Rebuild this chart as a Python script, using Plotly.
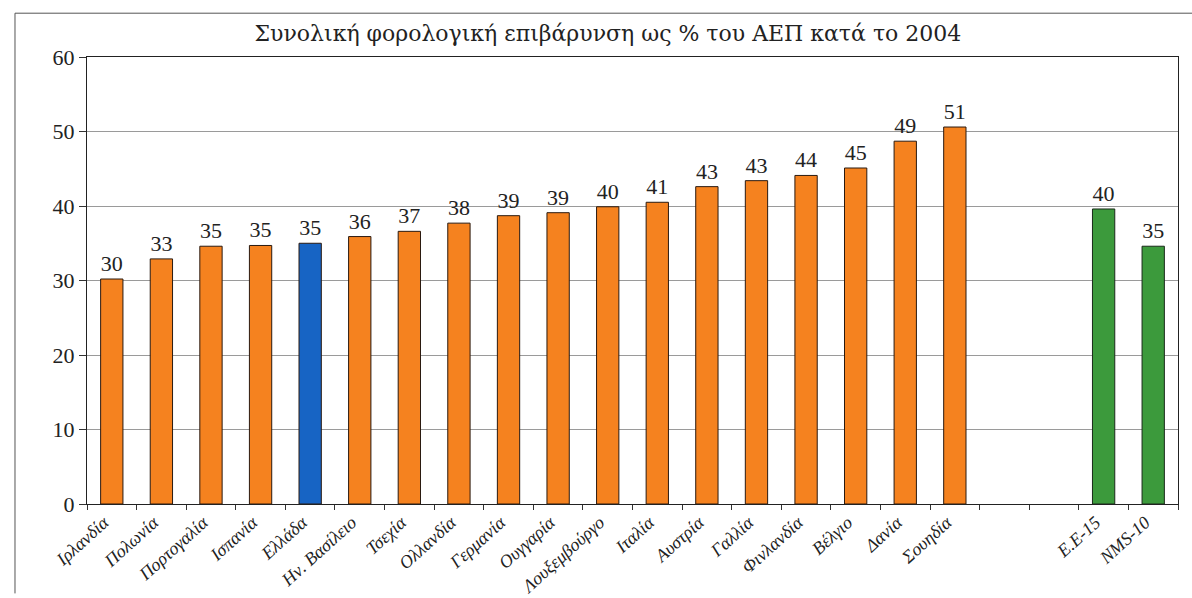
import plotly.graph_objects as go

# Total tax burden as % of GDP, 2004
countries = ["Ιρλανδία", "Πολωνία", "Πορτογαλία", "Ισπανία", "Ελλάδα", "Ην. Βασίλειο",
             "Τσεχία", "Ολλανδία", "Γερμανία", "Ουγγαρία", "Λουξεμβούργο", "Ιταλία",
             "Αυστρία", "Γαλλία", "Φινλανδία", "Βέλγιο", "Δανία", "Σουηδία"]
country_values = [30.2, 32.9, 34.6, 34.7, 35.0, 35.9, 36.6, 37.7, 38.7, 39.1, 39.9,
                  40.5, 42.6, 43.4, 44.1, 45.1, 48.7, 50.6]

groups = ["Ε.Ε-15", "NMS-10"]
group_values = [39.6, 34.6]

spacers = [" ", "  "]
highlight = "Ελλάδα"

ORANGE = "#F5821F"
BLUE = "#1764C4"
GREEN = "#3C9A3C"

categories = countries + spacers + groups
country_colors = [BLUE if c == highlight else ORANGE for c in countries]

serif = "'Liberation Serif', 'DejaVu Serif', serif"
wide_serif = "'DejaVu Serif', 'Liberation Serif', serif"

fig = go.Figure()
fig.add_trace(go.Bar(
    x=countries, y=country_values,
    marker=dict(color=country_colors, line=dict(color="#2a1a10", width=1)),
    texttemplate="%{y:.0f}", textposition="outside",
    textfont=dict(family=serif, size=22, color="#222222"),
    cliponaxis=False, width=0.45, showlegend=False,
))
fig.add_trace(go.Bar(
    x=groups, y=group_values,
    marker=dict(color=GREEN, line=dict(color="#1a2a1a", width=1)),
    texttemplate="%{y:.0f}", textposition="outside",
    textfont=dict(family=serif, size=22, color="#222222"),
    cliponaxis=False, width=0.45, showlegend=False,
))

fig.update_layout(
    width=1192, height=598,
    margin=dict(l=87, r=14, t=57, b=94),
    paper_bgcolor="white", plot_bgcolor="white",
    barmode="overlay",
    title=dict(text="Συνολική φορολογική επιβάρυνση ως % του ΑΕΠ κατά το 2004",
               x=0.51, xanchor="center", y=0.945, yanchor="middle",
               font=dict(family=wide_serif, size=22, color="#222222")),
    xaxis=dict(
        type="category", categoryorder="array", categoryarray=categories,
        range=[-0.5, len(categories) - 0.5], automargin=False,
        tickson="boundaries", ticks="outside", ticklen=5, tickcolor="#333333",
        tickangle=-42, showgrid=False, ticklabelshift=-8,
        showline=True, linecolor="#222222", linewidth=1, mirror=True,
        tickfont=dict(family=serif, size=18, color="#222222", style="italic"),
    ),
    yaxis=dict(
        range=[0, 60], dtick=10, ticks="outside", ticklen=7, tickcolor="#333333",
        showgrid=True, gridcolor="#9a9a9a", gridwidth=1, automargin=False,
        showline=True, linecolor="#222222", linewidth=1, mirror=True,
        zeroline=False,
        tickfont=dict(family=serif, size=22, color="#222222"),
    ),
    shapes=[
        dict(type="line", xref="paper", yref="paper", x0=-0.066, x1=1.02, y0=1.098, y1=1.098,
             line=dict(color="#555555", width=1)),
        dict(type="line", xref="paper", yref="paper", x0=-0.066, x1=-0.066, y0=1.098, y1=-0.2,
             line=dict(color="#555555", width=1)),
    ],
)

fig.write_html("out.html")
